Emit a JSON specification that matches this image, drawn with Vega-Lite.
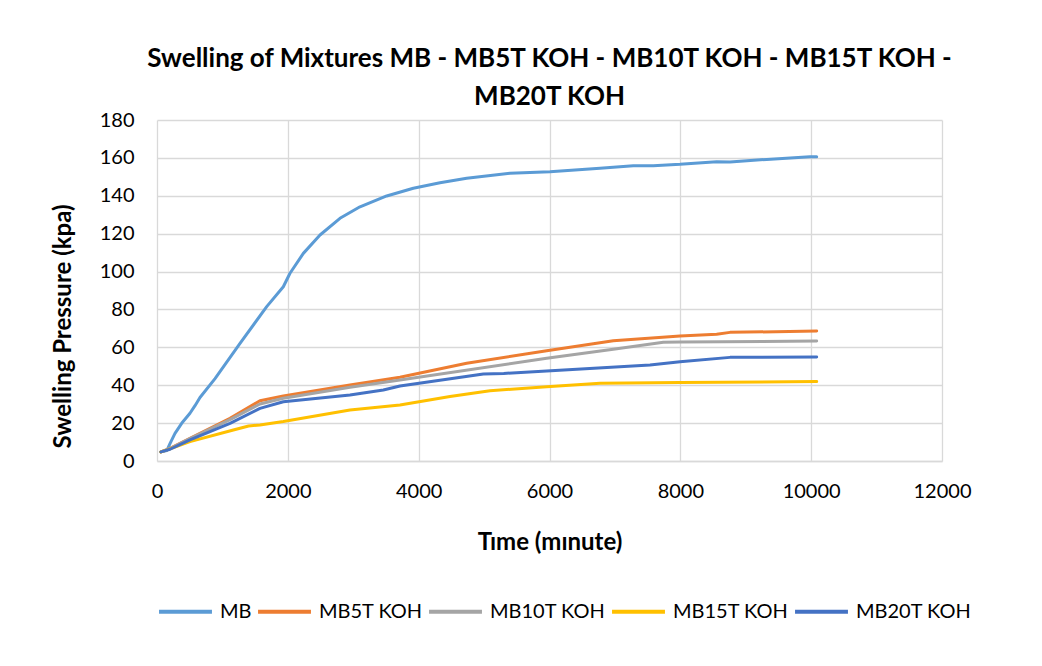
{
  "$schema": "https://vega.github.io/schema/vega-lite/v6.json",
  "autosize": "none",
  "width": 785,
  "height": 341,
  "padding": {"left": 157, "top": 120, "right": 100, "bottom": 205},
  "background": "white",
  "title": {
    "text": ["Swelling of Mixtures MB - MB5T KOH - MB10T KOH - MB15T KOH -", "MB20T KOH"],
    "font": "Lato",
    "fontSize": 26,
    "fontWeight": "bold",
    "color": "#000000",
    "lineHeight": 38,
    "offset": 0,
    "anchor": "middle"
  },
  "data": {
    "values": [
      {"series": "MB", "t": 60, "p": 4.8},
      {"series": "MB", "t": 150, "p": 5.5},
      {"series": "MB", "t": 200, "p": 9.3},
      {"series": "MB", "t": 275, "p": 14.6},
      {"series": "MB", "t": 377, "p": 19.9},
      {"series": "MB", "t": 504, "p": 25.2},
      {"series": "MB", "t": 581, "p": 29.2},
      {"series": "MB", "t": 657, "p": 33.5},
      {"series": "MB", "t": 887, "p": 43.5},
      {"series": "MB", "t": 1269, "p": 62.1},
      {"series": "MB", "t": 1677, "p": 81.5},
      {"series": "MB", "t": 1931, "p": 92.0},
      {"series": "MB", "t": 2033, "p": 99.1},
      {"series": "MB", "t": 2237, "p": 109.6},
      {"series": "MB", "t": 2492, "p": 119.3},
      {"series": "MB", "t": 2797, "p": 128.1},
      {"series": "MB", "t": 3103, "p": 134.2},
      {"series": "MB", "t": 3511, "p": 139.9},
      {"series": "MB", "t": 3918, "p": 144.0},
      {"series": "MB", "t": 4326, "p": 146.9},
      {"series": "MB", "t": 4734, "p": 149.2},
      {"series": "MB", "t": 5396, "p": 151.9},
      {"series": "MB", "t": 6007, "p": 152.7},
      {"series": "MB", "t": 6772, "p": 154.5},
      {"series": "MB", "t": 7281, "p": 155.9},
      {"series": "MB", "t": 7587, "p": 155.9},
      {"series": "MB", "t": 7995, "p": 156.6},
      {"series": "MB", "t": 8555, "p": 158.0},
      {"series": "MB", "t": 8759, "p": 157.8},
      {"series": "MB", "t": 9320, "p": 159.2},
      {"series": "MB", "t": 9982, "p": 160.6},
      {"series": "MB", "t": 10084, "p": 160.6},

      {"series": "MB5T KOH", "t": 60, "p": 4.8},
      {"series": "MB5T KOH", "t": 200, "p": 6.7},
      {"series": "MB5T KOH", "t": 504, "p": 12.0},
      {"series": "MB5T KOH", "t": 1116, "p": 22.5},
      {"series": "MB5T KOH", "t": 1574, "p": 31.8},
      {"series": "MB5T KOH", "t": 1931, "p": 34.3},
      {"series": "MB5T KOH", "t": 2950, "p": 40.1},
      {"series": "MB5T KOH", "t": 3714, "p": 44.2},
      {"series": "MB5T KOH", "t": 4734, "p": 51.6},
      {"series": "MB5T KOH", "t": 5957, "p": 58.2},
      {"series": "MB5T KOH", "t": 6975, "p": 63.5},
      {"series": "MB5T KOH", "t": 7995, "p": 66.0},
      {"series": "MB5T KOH", "t": 8555, "p": 66.9},
      {"series": "MB5T KOH", "t": 8759, "p": 67.9},
      {"series": "MB5T KOH", "t": 10084, "p": 68.6},

      {"series": "MB10T KOH", "t": 60, "p": 4.8},
      {"series": "MB10T KOH", "t": 200, "p": 6.6},
      {"series": "MB10T KOH", "t": 504, "p": 11.8},
      {"series": "MB10T KOH", "t": 1116, "p": 21.8},
      {"series": "MB10T KOH", "t": 1574, "p": 30.1},
      {"series": "MB10T KOH", "t": 1931, "p": 33.1},
      {"series": "MB10T KOH", "t": 2950, "p": 38.9},
      {"series": "MB10T KOH", "t": 3714, "p": 42.8},
      {"series": "MB10T KOH", "t": 5957, "p": 54.2},
      {"series": "MB10T KOH", "t": 6975, "p": 59.0},
      {"series": "MB10T KOH", "t": 7740, "p": 62.7},
      {"series": "MB10T KOH", "t": 7995, "p": 62.8},
      {"series": "MB10T KOH", "t": 10084, "p": 63.3},

      {"series": "MB15T KOH", "t": 60, "p": 4.8},
      {"series": "MB15T KOH", "t": 200, "p": 6.4},
      {"series": "MB15T KOH", "t": 504, "p": 10.2},
      {"series": "MB15T KOH", "t": 1167, "p": 16.4},
      {"series": "MB15T KOH", "t": 1400, "p": 18.5},
      {"series": "MB15T KOH", "t": 1574, "p": 19.0},
      {"series": "MB15T KOH", "t": 1931, "p": 20.8},
      {"series": "MB15T KOH", "t": 2950, "p": 26.9},
      {"series": "MB15T KOH", "t": 3714, "p": 29.6},
      {"series": "MB15T KOH", "t": 4479, "p": 34.0},
      {"series": "MB15T KOH", "t": 5090, "p": 37.1},
      {"series": "MB15T KOH", "t": 5957, "p": 39.2},
      {"series": "MB15T KOH", "t": 6772, "p": 41.0},
      {"series": "MB15T KOH", "t": 7995, "p": 41.4},
      {"series": "MB15T KOH", "t": 10084, "p": 41.9},

      {"series": "MB20T KOH", "t": 60, "p": 4.8},
      {"series": "MB20T KOH", "t": 200, "p": 6.2},
      {"series": "MB20T KOH", "t": 504, "p": 11.1},
      {"series": "MB20T KOH", "t": 1116, "p": 19.9},
      {"series": "MB20T KOH", "t": 1574, "p": 27.8},
      {"series": "MB20T KOH", "t": 1931, "p": 31.3},
      {"series": "MB20T KOH", "t": 2950, "p": 34.8},
      {"series": "MB20T KOH", "t": 3460, "p": 37.5},
      {"series": "MB20T KOH", "t": 3714, "p": 39.6},
      {"series": "MB20T KOH", "t": 4989, "p": 45.9},
      {"series": "MB20T KOH", "t": 5300, "p": 46.2},
      {"series": "MB20T KOH", "t": 5957, "p": 47.5},
      {"series": "MB20T KOH", "t": 7536, "p": 50.7},
      {"series": "MB20T KOH", "t": 7995, "p": 52.4},
      {"series": "MB20T KOH", "t": 8759, "p": 54.7},
      {"series": "MB20T KOH", "t": 10084, "p": 54.9}
    ]
  },
  "mark": {"type": "line", "strokeWidth": 3, "strokeCap": "round", "strokeJoin": "round"},
  "encoding": {
    "x": {
      "field": "t",
      "type": "quantitative",
      "scale": {"domain": [0, 12000], "nice": false},
      "axis": {
        "title": "Tıme (mınute)",
        "values": [0, 2000, 4000, 6000, 8000, 10000, 12000],
        "format": "d",
        "labelFlush": false,
        "tickSize": 0,
        "labelPadding": 20,
        "titlePadding": 29,
        "domainColor": "#d9d9d9",
        "gridColor": "#d9d9d9"
      }
    },
    "y": {
      "field": "p",
      "type": "quantitative",
      "scale": {"domain": [0, 180], "nice": false},
      "axis": {
        "title": "Swelling Pressure (kpa)",
        "values": [0, 20, 40, 60, 80, 100, 120, 140, 160, 180],
        "tickSize": 0,
        "labelPadding": 23,
        "titlePadding": 24,
        "titleY": 206,
        "domain": false,
        "gridColor": "#d9d9d9"
      }
    },
    "color": {
      "field": "series",
      "type": "nominal",
      "scale": {
        "domain": ["MB", "MB5T KOH", "MB10T KOH", "MB15T KOH", "MB20T KOH"],
        "range": ["#5b9bd5", "#ed7d31", "#a5a5a5", "#ffc000", "#4472c4"]
      },
      "legend": {
        "title": null,
        "orient": "bottom",
        "direction": "horizontal",
        "symbolType": "stroke",
        "symbolSize": 2800,
        "symbolStrokeWidth": 4,
        "labelOffset": 6,
        "columnPadding": -2,
        "offset": 29
      }
    }
  },
  "config": {
    "view": {"stroke": null},
    "axis": {
      "labelFont": "Lato",
      "labelFontSize": 20,
      "labelColor": "#000000",
      "titleFont": "Lato",
      "titleFontSize": 24,
      "titleFontWeight": "bold",
      "titleColor": "#000000",
      "gridWidth": 1.3,
      "domainWidth": 1.3
    },
    "legend": {
      "labelFont": "Lato",
      "labelFontSize": 20,
      "labelColor": "#000000"
    }
  }
}
